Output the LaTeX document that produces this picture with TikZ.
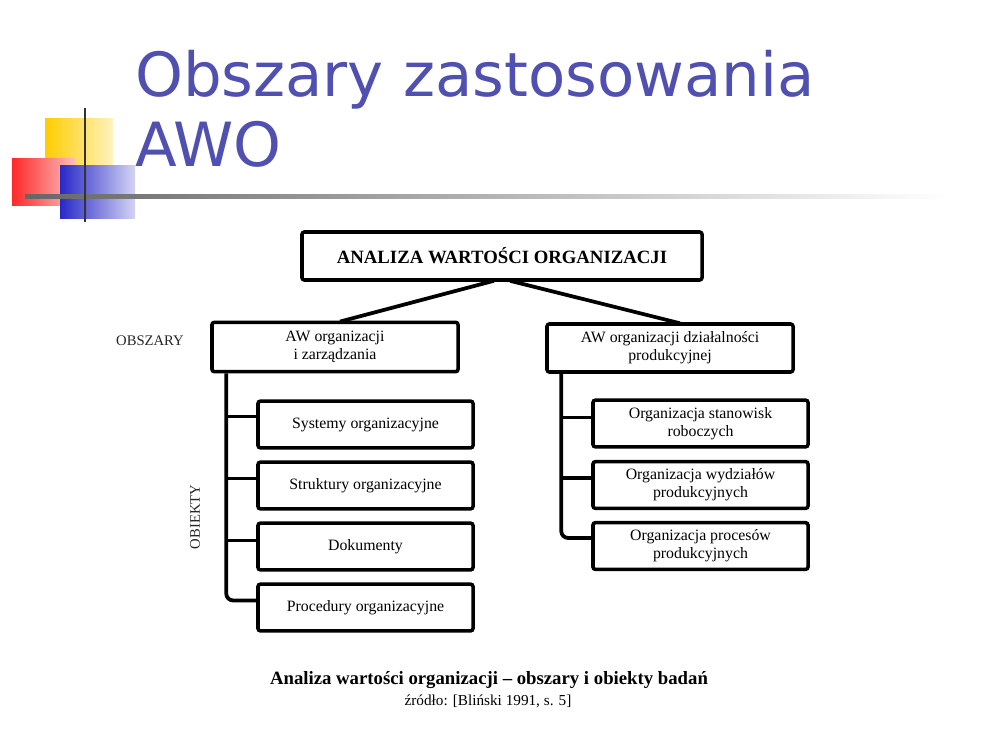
\documentclass[tikz,border=0pt]{standalone}
\usepackage{fontspec}
\setmainfont{Liberation Serif}
\newfontfamily\titlefont{DejaVu Sans}
\usetikzlibrary{calc}
\definecolor{titleblue}{RGB}{80,80,176}
\definecolor{sqyellow}{RGB}{255,204,0}
\definecolor{sqred}{RGB}{255,40,40}
\definecolor{sqblue}{RGB}{40,40,200}
\tikzset{
  box/.style={draw, line width=3pt, rounded corners=2pt, align=center, inner sep=1pt, fill=white},
  link/.style={line width=3.2pt},
  boxtext/.style={font=\fontsize{13.5}{15.5}\selectfont},
}
\begin{document}
\begin{tikzpicture}[x=0.03cm, y=-0.03cm]
\useasboundingbox (0,0) rectangle (1000,750);
\fill[white] (0,0) rectangle (1000,750);
% decorative squares
\shade[left color=sqyellow, right color=sqyellow!25] (45,118) rectangle (113,168);
\shade[left color=sqred, right color=sqred!30] (12,158) rectangle (75,205);
\shade[left color=sqblue, right color=sqblue!20] (60,165) rectangle (135,218);
\shade[left color=black!60, right color=white] (25,194) rectangle (945,198);
\draw[line width=2pt, black!80] (85,108) -- (85,222);
% title
\node[anchor=base west, text=titleblue, font=\titlefont\fontsize{52}{58}\selectfont, inner sep=0] (t1) at (135,96) {Obszary zastosowania};
\node[anchor=base west, text=titleblue, font=\titlefont\fontsize{52}{58}\selectfont, inner sep=0] (t2) at (135,166) {AWO};
% boxes
\node[box, minimum width=12cm, minimum height=1.44cm, font=\bfseries\fontsize{16}{18}\selectfont] (top) at (502,256) {ANALIZA WARTOŚCI ORGANIZACJI};
\node[box, boxtext, minimum width=7.38cm, minimum height=1.48cm] (lp) at (335,347) {AW organizacji\\i zarządzania};
\node[box, boxtext, minimum width=7.38cm, minimum height=1.44cm] (rp) at (670,348) {AW organizacji działalności\\produkcyjnej};
\node[box, boxtext, minimum width=6.45cm, minimum height=1.4cm] (c1) at (365.5,424.5) {Systemy organizacyjne};
\node[box, boxtext, minimum width=6.45cm, minimum height=1.4cm] (c2) at (365.5,485.5) {Struktury organizacyjne};
\node[box, boxtext, minimum width=6.45cm, minimum height=1.4cm] (c3) at (365.5,546.5) {Dokumenty};
\node[box, boxtext, minimum width=6.45cm, minimum height=1.4cm] (c4) at (365.5,607.5) {Procedury organizacyjne};
\node[box, boxtext, minimum width=6.45cm, minimum height=1.4cm] (d1) at (700.5,423.5) {Organizacja stanowisk\\roboczych};
\node[box, boxtext, minimum width=6.45cm, minimum height=1.4cm] (d2) at (700.5,485) {Organizacja wydziałów\\produkcyjnych};
\node[box, boxtext, minimum width=6.45cm, minimum height=1.4cm] (d3) at (700.5,546) {Organizacja procesów\\produkcyjnych};
% side labels
\node[font=\fontsize{12.5}{14}\selectfont, text=black!85] (obs) at (150,341) {OBSZARY};
\node[font=\fontsize{12.5}{14}\selectfont, text=black!85, rotate=90] (obi) at (195,517) {OBIEKTY};
% connectors top
\draw[link] ($(top.south)+(-8,-1)$) -- ($(lp.north)+(5,1)$);
\draw[link] ($(top.south)+(8,-1)$) -- ($(rp.north)+(10,1)$);
% left tree
\coordinate (lt) at ($(lp.south west)+(16,0)$);
\coordinate (b1) at ($(c1.west)+(0,-8)$);
\coordinate (b2) at ($(c2.west)+(0,-7)$);
\coordinate (b3) at ($(c3.west)+(0,-6)$);
\coordinate (b4) at ($(c4.west)+(0,-7)$);
\draw[link, rounded corners=6pt] (lt) |- (b4);
\draw[link] (b1 -| lt) -- (b1);
\draw[link] (b2 -| lt) -- (b2);
\draw[link] (b3 -| lt) -- (b3);
% right tree
\coordinate (rt) at ($(rp.south west)+(16,0)$);
\coordinate (e1) at ($(d1.west)+(0,-6)$);
\coordinate (e2) at ($(d2.west)+(0,-7)$);
\coordinate (e3) at ($(d3.west)+(0,-8)$);
\draw[link, rounded corners=6pt] (rt) |- (e3);
\draw[link] (e1 -| rt) -- (e1);
\draw[link] (e2 -| rt) -- (e2);
% caption
\node[font=\bfseries\fontsize{16}{18}\selectfont] (cap1) at (489,680) {Analiza wartości organizacji – obszary i obiekty badań};
\node[font=\fontsize{13}{15}\selectfont] (cap2) at (488,701) {źródło: [Bliński 1991, s. 5]};
\end{tikzpicture}
\end{document}
